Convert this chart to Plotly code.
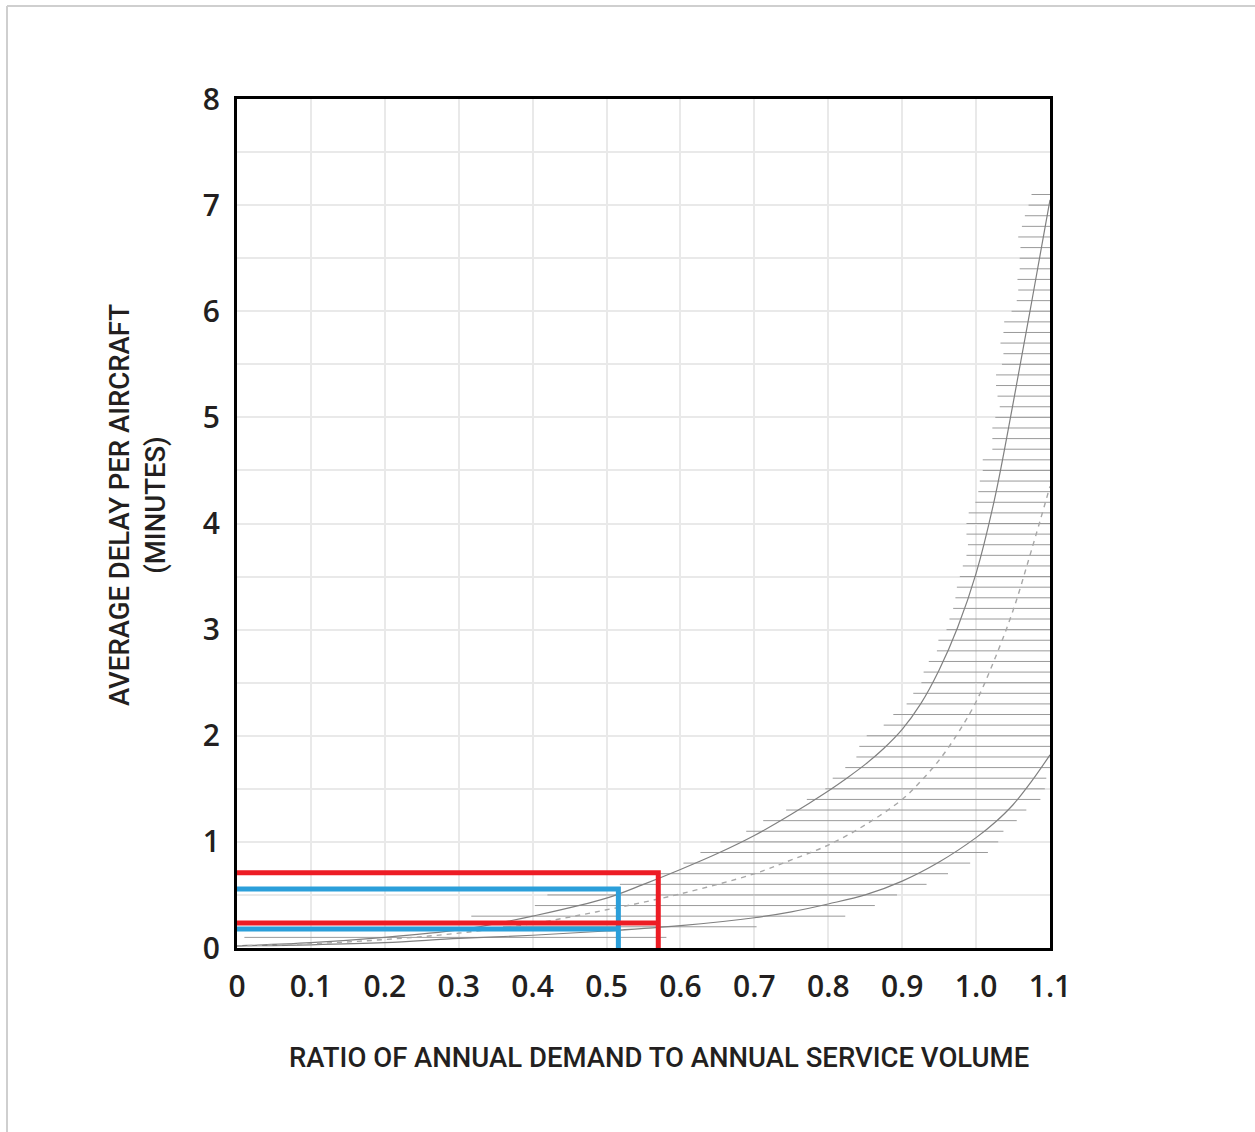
import plotly.graph_objects as go

# ---------------- data ----------------
x_ticks = [0, 0.1, 0.2, 0.3, 0.4, 0.5, 0.6, 0.7, 0.8, 0.9, 1.0, 1.1]
x_tick_labels = ["0", "0.1", "0.2", "0.3", "0.4", "0.5", "0.6", "0.7", "0.8", "0.9", "1.0", "1.1"]
y_ticks = [0, 1, 2, 3, 4, 5, 6, 7, 8]
y_tick_labels = ["0", "1", "2", "3", "4", "5", "6", "7", "8"]

# upper (solid) curve
upper_x = [0, 0.1, 0.2, 0.3, 0.35, 0.4, 0.5, 0.55, 0.6, 0.65, 0.7, 0.75, 0.8, 0.825, 0.85, 0.875, 0.9, 0.925, 0.95, 0.975, 1.0, 1.025, 1.05, 1.075, 1.1]
upper_y = [0.02, 0.05, 0.1, 0.17, 0.23, 0.3, 0.47, 0.6, 0.74, 0.89, 1.06, 1.26, 1.48, 1.60, 1.73, 1.88, 2.06, 2.30, 2.62, 3.02, 3.53, 4.23, 5.13, 6.08, 7.05]

# middle (dashed) curve
mid_x = [0, 0.1, 0.2, 0.3, 0.4, 0.5, 0.6, 0.7, 0.75, 0.8, 0.85, 0.9, 0.925, 0.95, 0.975, 1.0, 1.025, 1.05, 1.075, 1.1]
mid_y = [0.02, 0.04, 0.08, 0.14, 0.23, 0.36, 0.51, 0.70, 0.83, 0.97, 1.16, 1.40, 1.57, 1.77, 2.02, 2.32, 2.72, 3.18, 3.75, 4.35]

# lower (solid) curve
lower_x = [0, 0.1, 0.2, 0.3, 0.4, 0.5, 0.6, 0.7, 0.75, 0.8, 0.85, 0.9, 0.95, 1.0, 1.025, 1.05, 1.075, 1.1]
lower_y = [0.02, 0.03, 0.05, 0.09, 0.12, 0.16, 0.21, 0.285, 0.34, 0.415, 0.5, 0.63, 0.81, 1.04, 1.18, 1.35, 1.57, 1.82]

# hatch band: one horizontal line per delay level
hatch_y = [0.1, 0.2, 0.3, 0.4, 0.5, 0.6, 0.7, 0.8, 0.9, 1.0,
           1.1, 1.2, 1.3, 1.4, 1.5, 1.6, 1.7, 1.8, 1.9, 2.0,
           2.1, 2.2, 2.3, 2.4, 2.5, 2.6, 2.7, 2.8, 2.9, 3.0,
           3.1, 3.2, 3.3, 3.4, 3.5, 3.6, 3.7, 3.8, 3.9, 4.0,
           4.1, 4.2, 4.3, 4.4, 4.5, 4.6, 4.7, 4.8, 4.9, 5.0,
           5.1, 5.2, 5.3, 5.4, 5.5, 5.6, 5.7, 5.8, 5.9, 6.0,
           6.1, 6.2, 6.3, 6.4, 6.5, 6.6, 6.7, 6.8, 6.9, 7.0, 7.1]
hatch_left = [0.01, 0.36, 0.317, 0.403, 0.42, 0.518, 0.568, 0.604, 0.627, 0.654,
              0.689, 0.712, 0.743, 0.771, 0.796, 0.806, 0.823, 0.838, 0.842, 0.852,
              0.875, 0.888, 0.906, 0.915, 0.926, 0.929, 0.936, 0.947, 0.949, 0.960,
              0.964, 0.969, 0.972, 0.974, 0.978, 0.982, 0.987, 0.989, 0.987, 0.987,
              0.990, 0.999, 1.003, 1.005, 1.009, 1.009, 1.022, 1.022, 1.022, 1.026,
              1.032, 1.029, 1.027, 1.027, 1.035, 1.037, 1.033, 1.037, 1.038, 1.048,
              1.055, 1.057, 1.056, 1.059, 1.059, 1.060, 1.057, 1.062, 1.066, 1.071, 1.075]
hatch_right = [0.581, 0.703, 0.823, 0.863, 0.893, 0.933, 0.962, 0.992, 1.016, 1.03,
               1.037, 1.055, 1.068, 1.087, 1.093, 1.095, 1.1, 1.1, 1.1, 1.1,
               1.1, 1.1, 1.1, 1.1, 1.1, 1.1, 1.1, 1.1, 1.1, 1.1,
               1.1, 1.1, 1.1, 1.1, 1.1, 1.1, 1.1, 1.1, 1.1, 1.1,
               1.1, 1.1, 1.1, 1.1, 1.1, 1.1, 1.1, 1.1, 1.1, 1.1,
               1.1, 1.1, 1.1, 1.1, 1.1, 1.1, 1.1, 1.1, 1.1, 1.1,
               1.1, 1.1, 1.1, 1.1, 1.1, 1.1, 1.1, 1.1, 1.1, 1.1, 1.1]

# highlighted readings
red_ratio = 0.57
red_delays = [0.71, 0.235]
blue_ratio = 0.516
blue_delays = [0.556, 0.18]

x_title = "RATIO OF ANNUAL DEMAND TO ANNUAL SERVICE VOLUME"
y_title = "AVERAGE DELAY PER AIRCRAFT<br>(MINUTES)"

# ---------------- figure ----------------
RED = "#ed1c24"
BLUE = "#2b9fda"
TEXT = "#231f20"
TITLE_FONT = "Roboto, Open Sans, sans-serif"
TICK_FONT = "Open Sans, Lato, sans-serif"

fig = go.Figure()

hx, hy = [], []
for y, l, r in zip(hatch_y, hatch_left, hatch_right):
    hx += [l, r, None]
    hy += [y, y, None]
fig.add_trace(go.Scatter(x=hx, y=hy, mode="lines",
                         line=dict(color="#9a9a9a", width=1), hoverinfo="skip"))

fig.add_trace(go.Scatter(x=upper_x, y=upper_y, mode="lines",
                         line=dict(color="#808080", width=1.2, shape="spline", smoothing=1)))
fig.add_trace(go.Scatter(x=lower_x, y=lower_y, mode="lines",
                         line=dict(color="#808080", width=1.2, shape="spline", smoothing=1)))
fig.add_trace(go.Scatter(x=mid_x, y=mid_y, mode="lines",
                         line=dict(color="#a8a8a8", width=1.4, dash="5px,5px", shape="spline", smoothing=1)))

# blue reading
fig.add_trace(go.Scatter(x=[0, blue_ratio, blue_ratio], y=[blue_delays[0], blue_delays[0], 0],
                         mode="lines", line=dict(color=BLUE, width=5)))
fig.add_trace(go.Scatter(x=[0, blue_ratio], y=[blue_delays[1], blue_delays[1]],
                         mode="lines", line=dict(color=BLUE, width=5)))
# red reading
fig.add_trace(go.Scatter(x=[0, red_ratio, red_ratio], y=[red_delays[0], red_delays[0], 0],
                         mode="lines", line=dict(color=RED, width=5)))
fig.add_trace(go.Scatter(x=[0, red_ratio], y=[red_delays[1], red_delays[1]],
                         mode="lines", line=dict(color=RED, width=5)))

L, R, T, B = 237, 205, 99, 184
W, H = 1255, 1132
pw, ph = W - L - R, H - T - B

def px_x(p):
    return (p - L) / pw

def px_y(p):
    return (H - B - p) / ph

fig.update_layout(
    width=W, height=H,
    margin=dict(l=L, r=R, t=T, b=B, pad=0),
    paper_bgcolor="white", plot_bgcolor="white",
    showlegend=False,
    xaxis=dict(range=[0, 1.1], tickvals=x_ticks, ticktext=x_tick_labels,
               showgrid=True, gridcolor="#e9e9e9", gridwidth=2, zeroline=False,
               showline=True, linecolor="black", linewidth=3, mirror=True,
               ticks="", ticklabelstandoff=10,
               tickfont=dict(family=TICK_FONT, size=30, color=TEXT, weight=600)),
    yaxis=dict(range=[0, 8], tickvals=y_ticks, ticktext=y_tick_labels,
               showgrid=True, gridcolor="#e9e9e9", gridwidth=2, zeroline=False,
               minor=dict(dtick=0.5, showgrid=True, gridcolor="#e9e9e9", gridwidth=2),
               showline=True, linecolor="black", linewidth=3, mirror=True,
               ticks="", ticklabelstandoff=8,
               tickfont=dict(family=TICK_FONT, size=30, color=TEXT, weight=600)),
    annotations=[
        dict(text=x_title, xref="paper", yref="paper", x=px_x(659), y=px_y(1057),
             xanchor="center", yanchor="middle", showarrow=False,
             font=dict(family=TITLE_FONT, size=27.5, color=TEXT, weight=500)),
        dict(text=y_title, xref="paper", yref="paper", x=px_x(138), y=px_y(505),
             xanchor="center", yanchor="middle", showarrow=False, textangle=-90,
             font=dict(family=TITLE_FONT, size=27.5, color=TEXT, weight=500)),
    ],
    shapes=[
        dict(type="line", xref="paper", yref="paper", x0=px_x(7), x1=px_x(7), y0=px_y(6), y1=px_y(1132),
             line=dict(color="#cfcfcf", width=2)),
        dict(type="line", xref="paper", yref="paper", x0=px_x(7), x1=px_x(1255), y0=px_y(6), y1=px_y(6),
             line=dict(color="#cfcfcf", width=2)),
    ],
)

fig.write_html("out.html", config={"displayModeBar": False},
               post_script="document.body.style.margin='0';")
